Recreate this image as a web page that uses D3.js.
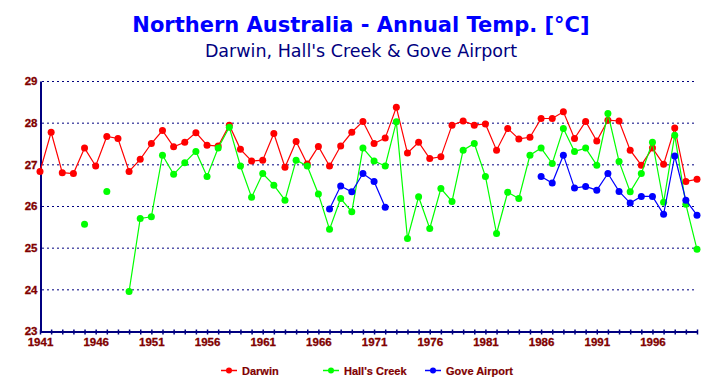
<!DOCTYPE html>
<html><head><meta charset="utf-8">
<script src="https://cdn.jsdelivr.net/npm/d3@7"></script>
<style>body{margin:0;background:#fff}svg{display:block}</style>
</head><body><svg id="c" width="721" height="392"></svg>
<script>
const years = d3.range(1941, 2001);
const darwin = [26.83,27.77,26.80,26.78,27.39,26.96,27.67,27.62,26.83,27.12,
27.50,27.81,27.42,27.53,27.76,27.46,27.44,27.94,27.36,27.08,
27.10,27.74,26.93,27.55,27.01,27.43,26.96,27.44,27.77,28.03,
27.50,27.63,28.37,27.27,27.53,27.14,27.18,27.94,28.04,27.94,
27.97,27.34,27.86,27.61,27.65,28.10,28.10,28.26,27.62,28.03,
27.56,28.06,28.04,27.34,26.98,27.39,27.00,27.87,26.59,26.64];
const hallsCreek = [null,null,null,null,25.56,null,26.35,null,23.95,25.70,
25.74,27.22,26.76,27.04,27.31,26.71,27.39,27.89,26.96,26.21,
26.78,26.50,26.14,27.10,26.96,26.29,25.44,26.18,25.86,27.39,
27.08,26.96,28.02,25.22,26.22,25.46,26.42,26.11,27.34,27.50,
26.71,25.34,26.33,26.18,27.22,27.39,27.02,27.86,27.31,27.39,
26.98,28.22,27.07,26.34,26.78,27.53,26.09,27.70,26.04,24.96];
const gove = [null,null,null,null,null,null,null,null,null,null,
null,null,null,null,null,null,null,null,null,null,
null,null,null,null,null,null,25.93,26.48,26.34,26.78,
26.59,25.97,null,null,null,null,null,null,null,null,
null,null,null,null,null,26.71,26.55,27.22,26.43,26.47,
26.38,26.78,26.35,26.07,26.23,26.23,25.80,27.20,26.14,25.78];
const seriesNames = ["Darwin","Hall's Creek","Gove Airport"];
const seriesColors = ["#ff0000","#00ff00","#0000ff"];
const yTicks = [23,24,25,26,27,28,29];
const xLabelYears = [1941,1946,1951,1956,1961,1966,1971,1976,1981,1986,1991,1996];

const svg = d3.select("#c");
const x = d3.scaleLinear().domain([1941,2000]).range([40,697]);
const y = d3.scaleLinear().domain([23,29]).range([331,81]);
const navy = "#000080", dred = "#800000";

svg.append("text").attr("x",361).attr("y",32).attr("text-anchor","middle")
  .attr("font-family","DejaVu Sans").attr("font-weight","bold").attr("font-size",21)
  .attr("fill","#0000ff").text("Northern Australia - Annual Temp. [°C]");
svg.append("text").attr("x",361).attr("y",57).attr("text-anchor","middle")
  .attr("font-family","DejaVu Sans").attr("font-size",17.5)
  .attr("fill","#000080").text("Darwin, Hall's Creek & Gove Airport");

// gridlines
svg.append("g").selectAll("line").data(yTicks.slice(1)).join("line")
  .attr("x1",42).attr("x2",697).attr("y1",d=>y(d)+0.5).attr("y2",d=>y(d)+0.5)
  .attr("stroke",navy).attr("stroke-dasharray","2,3").attr("stroke-width",1);

// y axis
const ya = svg.append("g").attr("transform","translate(40.5,0)")
  .call(d3.axisLeft(y).tickValues(yTicks).tickSize(0).tickPadding(3).tickFormat(d3.format("d")));
ya.select(".domain").attr("stroke",navy).attr("stroke-width",2);
ya.selectAll("text").attr("fill",dred).attr("font-family","Liberation Sans").attr("font-weight","bold")
  .attr("font-size",11.5).attr("stroke",dred).attr("stroke-width",0.3);

// x axis
const xa = svg.append("g").attr("transform","translate(0,331.5)")
  .call(d3.axisBottom(x).tickValues(years).tickSize(3).tickSizeOuter(0).tickPadding(3)
  .tickFormat(d => xLabelYears.includes(d) ? d : ""));
xa.select(".domain").attr("stroke",navy).attr("stroke-width",2);
xa.selectAll(".tick line").attr("y1",-2).attr("stroke",navy).attr("stroke-width",1.5);
xa.selectAll("text").attr("fill",dred).attr("font-family","Liberation Sans").attr("font-weight","bold")
  .attr("font-size",11.5).attr("stroke",dred).attr("stroke-width",0.3);

const data = [darwin, hallsCreek, gove];
const line = d3.line().defined(d=>d.v!=null).x(d=>x(d.yr)).y(d=>y(d.v));
data.forEach((arr,i)=>{
  const pts = years.map((yr,j)=>({yr, v:arr[j]}));
  svg.append("path").datum(pts).attr("d",line).attr("fill","none")
    .attr("stroke",seriesColors[i]).attr("stroke-width",1.2);
  svg.append("g").selectAll("circle").data(pts.filter(p=>p.v!=null)).join("circle")
    .attr("cx",p=>x(p.yr)).attr("cy",p=>y(p.v)).attr("r",3.5).attr("fill",seriesColors[i]);
});

// legend
const legX = [221,323,425];
seriesNames.forEach((n,i)=>{
  const g = svg.append("g");
  g.append("line").attr("x1",legX[i]).attr("x2",legX[i]+16).attr("y1",370.5).attr("y2",370.5)
    .attr("stroke",seriesColors[i]).attr("stroke-width",1.5);
  g.append("circle").attr("cx",legX[i]+8).attr("cy",370.5).attr("r",3).attr("fill",seriesColors[i]);
  g.append("text").attr("x",legX[i]+21).attr("y",374.5).attr("fill",dred)
    .attr("font-family","Liberation Sans").attr("font-weight","bold").attr("font-size",11)
    .attr("stroke",dred).attr("stroke-width",0.2).text(n);
});
</script></body></html>
